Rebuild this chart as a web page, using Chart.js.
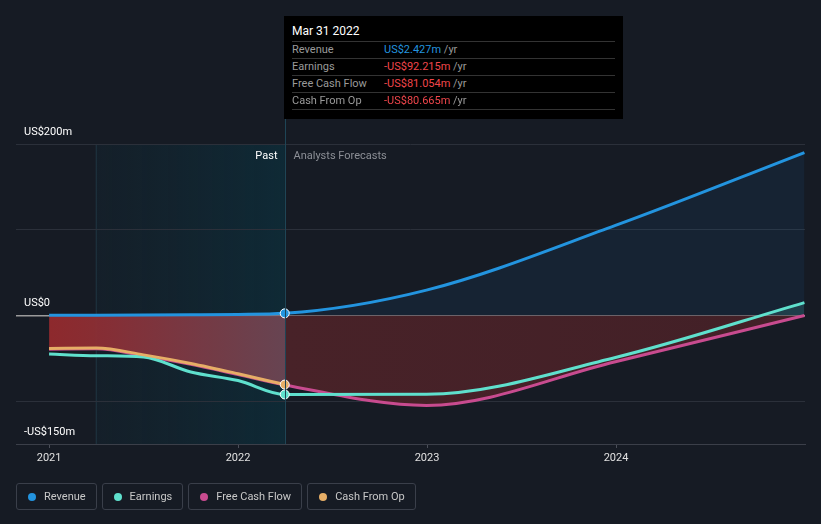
<!DOCTYPE html>
<html>
<head>
<meta charset="utf-8">
<script src="https://cdn.jsdelivr.net/npm/chart.js@4.4.1/dist/chart.umd.min.js"></script>
<style>
  body { margin: 0; background: #161b24; font-family: Roboto, "Noto Sans", sans-serif; }
  #wrap { position: relative; width: 821px; height: 524px; overflow: hidden; }
  canvas { position: absolute; left: 0; top: 0; }
  #tip { position: absolute; left: 284px; top: 16px; width: 339px; height: 103px; background: #000; color: #fff; font-size: 11px; }
  #tip .title { position: absolute; left: 8px; top: 8px; font-size: 12px; }
  #tip .row { position: absolute; left: 8px; width: 323px; height: 17px; border-top: 1px solid #333; line-height: 16px; }
  #tip .row .lab { position: absolute; left: 0; color: #9a9a9a; }
  #tip .row .val { position: absolute; left: 92px; }
  #tip .row .unit { color: #9a9a9a; }
  #legend { position: absolute; left: 16px; top: 483px; display: flex; gap: 5px; }
  #legend .item { border: 1px solid #3a3f4a; border-radius: 3px; height: 27px; padding: 0 10px 0 11px; display: flex; align-items: center; color: #c8c8c8; font-size: 11px; box-sizing: border-box; }
  #legend .dot { width: 8px; height: 8px; border-radius: 50%; margin-right: 8px; }
</style>
</head>
<body>
<div id="wrap">
  <canvas id="chart" width="821" height="524"></canvas>
  <div id="tip"></div>
  <div id="legend"></div>
</div>
<script>
// data (year as decimal)
const pastYears = [2021.0, 2021.25, 2021.5, 2021.75, 2022.0, 2022.247];
const futureYears = [2022.997, 2023.997, 2024.997];

const revenuePast = [0.2, 0.3, 0.5, 0.8, 1.2, 2.427];
const revenueFuture = [29.5, 105, 190];
const earningsPast = [-45, -47, -48.5, -66, -76, -92.215];
const earningsFuture = [-92, -49, 15];
const fcfPast = [-39.5, -39, -47, -57, -69, -81.054];
const fcfFuture = [-105, -54, 0];
const cfoPast = [-38.5, -38, -46, -56, -68, -80.665];

const yTicks = [-150, -100, 0, 100, 200];
const yLabels = {200: 'US$200m', 0: 'US$0', '-150': '-US$150m'};
const xTicks = [2021, 2022, 2023, 2024];
const tipDate = 'Mar 31 2022';

const colors = {
    revenue: '#2394df',
    earnings: '#5fe0cd',
    fcf: '#c84b8f',
    cfo: '#e6ae66'
};

function pts(xs, ys) {
    return xs.map((x, i) => ({ x: x, y: ys[i] }));
}

const lastPast = pastYears.length - 1;
const nowX = pastYears[lastPast];

// only mark the "now" point
function nowRadius(ctx) {
    return ctx.raw && ctx.raw.x === nowX ? 4.5 : 0;
}

// red area under free cash flow: bright in the past, dark in the forecast
function redFill(c) {
    const chart = c.chart;
    if (!chart.chartArea) return 'rgba(70,33,40,1)';
    const xs = chart.scales.x;
    const a = xs.getPixelForValue(pastYears[0]);
    const b = xs.getPixelForValue(futureYears[futureYears.length - 1]);
    const n = xs.getPixelForValue(nowX);
    const t = (n - a) / (b - a);
    const g = chart.ctx.createLinearGradient(a, 0, b, 0);
    g.addColorStop(0, 'rgba(148,42,46,0.95)');
    g.addColorStop(t * 0.25, 'rgba(140,48,54,0.95)');
    g.addColorStop(t, 'rgba(108,70,84,0.95)');
    g.addColorStop(t + 0.001, 'rgba(72,34,40,1)');
    g.addColorStop(1, 'rgba(66,32,39,1)');
    return g;
}

// past shading, divider, y labels
const decor = {
    id: 'decor',
    beforeDraw(chart) {
        const {ctx, chartArea, scales} = chart;
        const x0 = scales.x.getPixelForValue(nowX - 1);
        const x1 = scales.x.getPixelForValue(nowX);
        const g = ctx.createLinearGradient(x0, 0, x1, 0);
        g.addColorStop(0, 'rgba(18,40,52,0.35)');
        g.addColorStop(1, 'rgba(10,52,66,0.6)');
        ctx.save();
        ctx.fillStyle = g;
        ctx.fillRect(x0, chartArea.top, x1 - x0, chartArea.bottom - chartArea.top);
        ctx.strokeStyle = 'rgba(40,70,85,0.6)';
        ctx.lineWidth = 1;
        ctx.beginPath();
        ctx.moveTo(x0 + 0.5, chartArea.top);
        ctx.lineTo(x0 + 0.5, chartArea.bottom);
        ctx.stroke();
        ctx.restore();
    },
    afterDatasetsDraw(chart) {
        const {ctx, chartArea, scales} = chart;
        const x1 = Math.round(scales.x.getPixelForValue(nowX)) + 0.5;
        ctx.save();
        ctx.strokeStyle = '#1e4556';
        ctx.lineWidth = 1;
        ctx.beginPath();
        ctx.moveTo(x1, 119);
        ctx.lineTo(x1, chartArea.bottom);
        ctx.stroke();
        ctx.font = '11px Roboto, sans-serif';
        ctx.textBaseline = 'middle';
        ctx.textAlign = 'right';
        ctx.fillStyle = '#ffffff';
        ctx.fillText('Past', x1 - 8, chartArea.top + 12);
        ctx.textAlign = 'left';
        ctx.fillStyle = '#8c8f96';
        ctx.fillText('Analysts Forecasts', x1 + 8, chartArea.top + 12);
        ctx.fillStyle = '#ffffff';
        Object.keys(yLabels).forEach(v => {
            ctx.fillText(yLabels[v], chartArea.left + 8, scales.y.getPixelForValue(Number(v)) - 12);
        });
        ctx.restore();
    }
};

const ctx = document.getElementById('chart');

new Chart(ctx, {
    type: 'line',
    data: {
        datasets: [
            {
                label: 'Revenue',
                data: pts(pastYears.concat(futureYears), revenuePast.concat(revenueFuture)),
                borderColor: colors.revenue,
                backgroundColor: 'rgba(33,150,243,0.075)',
                fill: 'origin',
                borderWidth: 3,
                pointRadius: nowRadius,
                pointBackgroundColor: colors.revenue,
                pointBorderColor: '#ffffff',
                pointBorderWidth: 1,
                order: 0
            },
            {
                label: 'Cash From Op',
                data: pts(pastYears, cfoPast),
                borderColor: colors.cfo,
                fill: false,
                borderWidth: 3,
                pointRadius: nowRadius,
                pointBackgroundColor: colors.cfo,
                pointBorderColor: '#ffffff',
                pointBorderWidth: 1,
                order: 1
            },
            {
                label: 'Earnings',
                data: pts(pastYears.concat(futureYears), earningsPast.concat(earningsFuture)),
                borderColor: colors.earnings,
                fill: { target: 'origin', above: 'rgba(95,224,205,0.15)', below: 'rgba(0,0,0,0)' },
                borderWidth: 3,
                pointRadius: nowRadius,
                pointBackgroundColor: colors.earnings,
                pointBorderColor: '#ffffff',
                pointBorderWidth: 1,
                order: 2
            },
            {
                label: 'Free Cash Flow',
                data: pts(pastYears.concat(futureYears), fcfPast.concat(fcfFuture)),
                borderColor: colors.fcf,
                backgroundColor: redFill,
                fill: 'origin',
                borderWidth: 3,
                pointRadius: 0,
                order: 3
            }
        ]
    },
    options: {
        responsive: false,
        animation: false,
        cubicInterpolationMode: 'monotone',
        layout: { padding: { left: 16, right: 16, top: 144, bottom: 50 } },
        scales: {
            x: {
                type: 'linear',
                min: 2020.825,
                max: 2025.0,
                afterBuildTicks: s => { s.ticks = xTicks.map(v => ({ value: v })); },
                afterFit: s => { s.height = 30; },
                ticks: {
                    color: '#e0e0e0',
                    font: { family: 'Roboto', size: 11 },
                    padding: 4,
                    maxRotation: 0,
                    callback: v => String(v)
                },
                grid: { drawOnChartArea: false, drawTicks: true, tickLength: 4, color: '#4a4e58' },
                border: { color: '#3b3f49', width: 1 }
            },
            y: {
                min: -150,
                max: 200,
                afterBuildTicks: s => { s.ticks = yTicks.map(v => ({ value: v })); },
                afterFit: s => { s.width = 0; },
                ticks: { display: false },
                grid: {
                    drawTicks: false,
                    color: c => c.tick.value === 0 ? '#9a9a9a' : (c.tick.value === -150 ? 'rgba(0,0,0,0)' : '#2b303a'),
                    lineWidth: c => c.tick.value === 0 ? 1.5 : 1
                },
                border: { display: false }
            }
        },
        plugins: {
            legend: { display: false },
            tooltip: { enabled: false },
            filler: { drawTime: 'beforeDatasetsDraw' }
        }
    },
    plugins: [decor]
});

// tooltip box
const tip = document.getElementById('tip');
const rows = [
    ['Revenue', revenuePast[lastPast], colors.revenue],
    ['Earnings', earningsPast[lastPast]],
    ['Free Cash Flow', fcfPast[lastPast]],
    ['Cash From Op', cfoPast[lastPast]]
];
let html = '<div class="title">' + tipDate + '</div>';
rows.forEach((r, i) => {
    const v = r[1];
    const txt = (v < 0 ? '-' : '') + 'US$' + Math.abs(v).toFixed(3) + 'm';
    const col = v < 0 ? '#f0464b' : r[2];
    html += '<div class="row" style="top:' + (25 + i * 17) + 'px"><span class="lab">' + r[0] +
        '</span><span class="val"><span style="color:' + col + '">' + txt + '</span> <span class="unit">/yr</span></span></div>';
});
html += '<div class="row" style="top:' + (25 + 4 * 17) + 'px"></div>';
tip.innerHTML = html;

// legend
const legend = document.getElementById('legend');
[['Revenue', colors.revenue], ['Earnings', colors.earnings], ['Free Cash Flow', colors.fcf], ['Cash From Op', colors.cfo]].forEach(l => {
    const d = document.createElement('div');
    d.className = 'item';
    d.innerHTML = '<span class="dot" style="background:' + l[1] + '"></span>' + l[0];
    legend.appendChild(d);
});
</script>
</body>
</html>
